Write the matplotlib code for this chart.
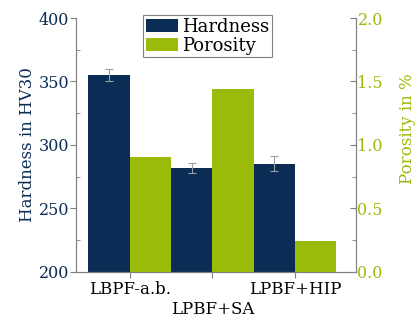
import numpy as np
import matplotlib
matplotlib.use("Agg")
import matplotlib.pyplot as plt
from matplotlib.ticker import MultipleLocator

# ---------- dados ----------
categorias = ["LBPF-a.b.", "\nLPBF+SA", "LPBF+HIP"]
dureza = [355, 282, 285]          # HV30
dureza_err = [5, 4, 6]
porosidade = [0.90, 1.44, 0.24]   # %

AZUL = "#0b2d55"
VERDE = "#9bbb0a"
CINZA = "#808080"

plt.rcParams["font.family"] = "DejaVu Serif"

fig = plt.figure(figsize=(4.15, 3.28), dpi=100)
ax = fig.add_axes([0.183, 0.172, 0.675, 0.773])
ax2 = ax.twinx()

x = np.arange(len(categorias))
w = 0.5
b1 = ax.bar(x - w / 2, np.array(dureza) - 200, w, bottom=200, color=AZUL,
            label="Hardness", zorder=2)
ax.errorbar(x - w / 2, dureza, yerr=dureza_err, fmt="none", ecolor="#9aa0a8",
            elinewidth=0.8, capsize=3, capthick=0.8, zorder=3)
b2 = ax2.bar(x + w / 2, porosidade, w, color=VERDE, label="Porosity", zorder=2)

ax.set_xlim(-0.65, 2.74)
ax.set_ylim(200, 400)
ax2.set_ylim(0, 2.0)

ax.set_xticks(x)
ax.set_xticklabels(categorias, fontsize=12)
ax.yaxis.set_major_locator(MultipleLocator(50))
ax.yaxis.set_minor_locator(MultipleLocator(25))
ax2.yaxis.set_major_locator(MultipleLocator(0.5))
ax2.yaxis.set_minor_locator(MultipleLocator(0.25))
ax2.yaxis.set_major_formatter(plt.FormatStrFormatter("%.1f"))

for a in (ax, ax2):
    a.spines["top"].set_visible(False)
    for s in a.spines.values():
        s.set_color(CINZA)
ax.tick_params(axis="x", direction="out", length=4, color=CINZA, pad=3)
ax.tick_params(axis="y", which="major", direction="out", length=4, color=CINZA,
               labelcolor=AZUL, labelsize=11.5, pad=1)
ax.tick_params(axis="y", which="minor", direction="in", length=3, color=CINZA)
ax2.tick_params(axis="y", which="both", direction="in", color=CINZA,
                labelcolor=VERDE, labelsize=11.5, pad=1)
ax2.tick_params(axis="y", which="major", length=4)
ax2.tick_params(axis="y", which="minor", length=3)

ax.set_ylabel("Hardness in HV30", color=AZUL, fontsize=12, labelpad=2)
ax2.set_ylabel("Porosity in %", color=VERDE, fontsize=12)
ax2.yaxis.set_label_coords(1.155, 0.565)

leg = fig.legend([b1, b2], ["Hardness", "Porosity"], loc="upper left",
                 bbox_to_anchor=(0.345, 0.954), fontsize=13, frameon=True,
                 fancybox=False, edgecolor=CINZA, framealpha=1,
                 handlelength=1.8, handleheight=0.75, handletextpad=0.2,
                 labelspacing=0.05, borderpad=0.15, borderaxespad=0)
leg.get_frame().set_linewidth(0.8)

fig.savefig("out.png", dpi=100)
